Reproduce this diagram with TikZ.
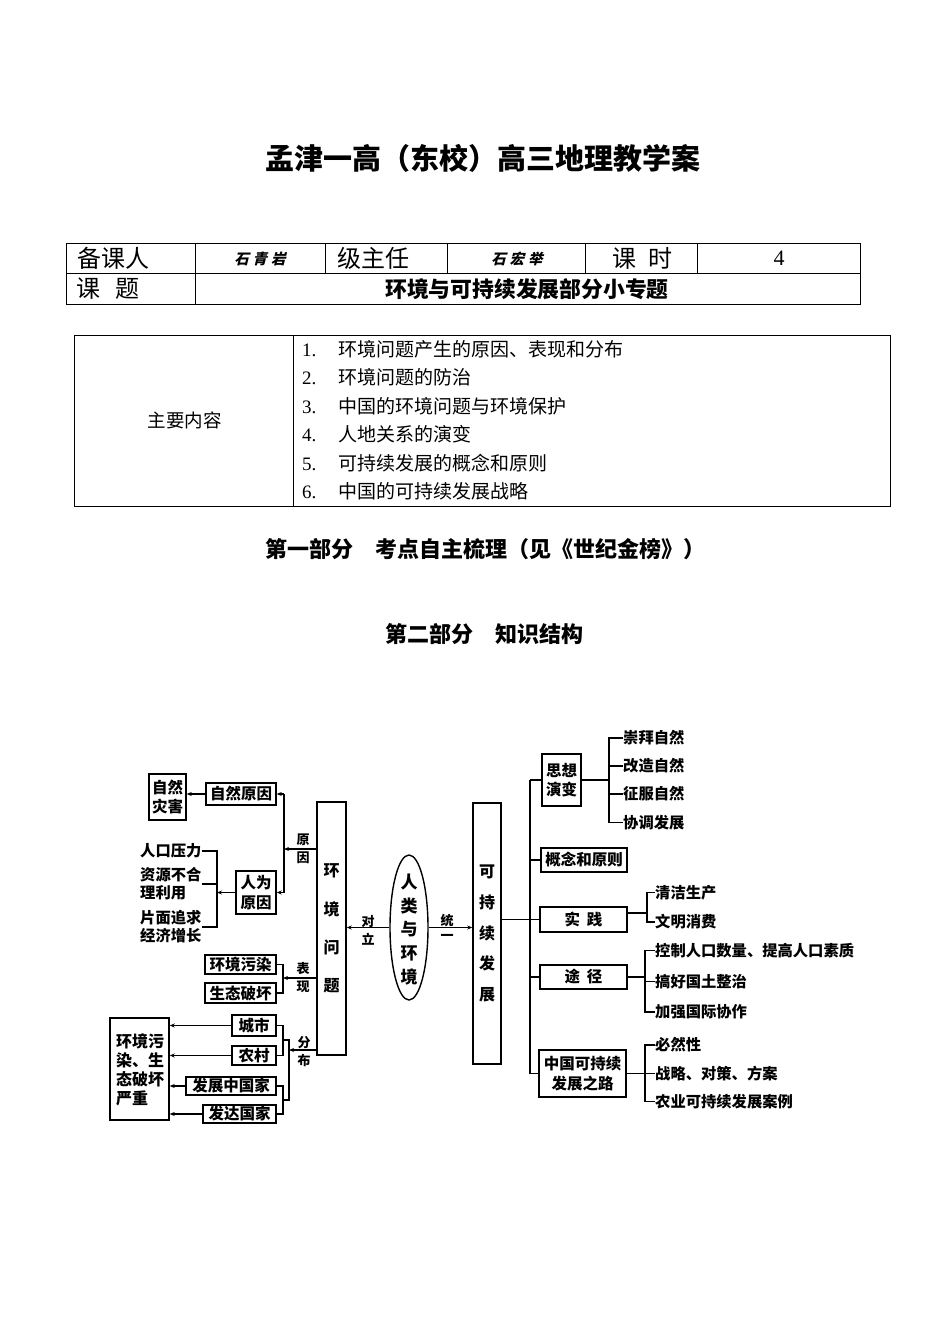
\documentclass[tikz,border=0pt]{standalone}
\usepackage{fontspec}
\setmainfont{Liberation Serif}
\newfontfamily\cjk{Noto Sans CJK SC}
\newfontfamily\cjksl{Noto Sans CJK SC}[FakeSlant=0.25]
\usetikzlibrary{arrows.meta,shapes.geometric}
\newcommand\bxfont{\cjk\bfseries\fontsize{15.5}{19.5}\selectfont}
\newcommand\lblfont{\cjk\bfseries\fontsize{13}{18}\selectfont}
\newcommand\txfont{\cjk\bfseries\fontsize{15.3}{18}\selectfont}
\tikzset{
  ln/.style={line width=1.4pt},
  arr/.style={ln,-{Stealth[length=5pt,width=4pt]}},
  bx/.style={draw,line width=1.4pt,inner sep=0pt,font=\bxfont,align=center},
  tx/.style={inner sep=0pt,font=\txfont,align=left},
  lbl/.style={inner sep=0pt,font=\lblfont,align=center},
  tbl/.style={line width=0.9pt},
  hd/.style={inner sep=0pt,font=\cjk\bfseries\fontsize{22}{25}\selectfont,anchor=west},
  cell/.style={inner sep=0pt,font=\cjk\fontsize{24}{28}\selectfont},
  sig/.style={inner sep=0pt,font=\cjksl\bfseries\fontsize{14.5}{16}\selectfont},
  item/.style={inner sep=0pt,anchor=west,font=\cjk\fontsize{19}{22}\selectfont}
}
\begin{document}
\begin{tikzpicture}[x=1pt,y=-1pt]
\useasboundingbox (0,0) rectangle (950,1342);
\fill[white] (0,0) rectangle (950,1342);

% ---------- title ----------
\node[inner sep=0pt,anchor=west,font=\cjk\bfseries\fontsize{29}{33}\selectfont] (title) at (265,158) {孟津一高（东校）高三地理教学案};

% ---------- table 1 ----------
\draw[tbl] (66,243) rectangle (860,304);
\draw[tbl] (66,273) -- (860,273);
\draw[tbl] (195,243) -- (195,304);
\foreach \xx in {325,447,585,697} \draw[tbl] (\xx,243) -- (\xx,273);
\node[cell] (c1) at (113,258) {备课人};
\node[sig] (c2) at (260,259) {石\hspace{4pt}青\hspace{4pt}岩};
\node[cell] (c3) at (373.5,258) {级主任};
\node[sig] (c4) at (517,259) {石\hspace{4pt}宏\hspace{4pt}举};
\node[cell] (c5) at (642,258) {课\hspace{12pt}时};
\node[inner sep=0pt,font=\fontsize{22}{26}\selectfont] (c6) at (779,258) {4};
\node[cell] (c7) at (108,289) {课\hspace{16pt}题};
\node[inner sep=0pt,font=\cjk\bfseries\fontsize{21.8}{24}\selectfont] (c8) at (527,289) {环境与可持续发展部分小专题};

% ---------- table 2 ----------
\draw[tbl] (74,335) rectangle (890,506);
\draw[tbl] (293,335) -- (293,506);
\node[inner sep=0pt,font=\cjk\fontsize{18.5}{22}\selectfont] (zy) at (184.5,420) {主要内容};
\node[item] (i1) at (302,349) {\makebox[36pt][l]{\rmfamily 1.}环境问题产生的原因、表现和分布};
\node[item] (i2) at (302,377.5) {\makebox[36pt][l]{\rmfamily 2.}环境问题的防治};
\node[item] (i3) at (302,406) {\makebox[36pt][l]{\rmfamily 3.}中国的环境问题与环境保护};
\node[item] (i4) at (302,434.5) {\makebox[36pt][l]{\rmfamily 4.}人地关系的演变};
\node[item] (i5) at (302,463) {\makebox[36pt][l]{\rmfamily 5.}可持续发展的概念和原则};
\node[item] (i6) at (302,491) {\makebox[36pt][l]{\rmfamily 6.}中国的可持续发展战略};

% ---------- headings ----------
\node[hd] (h1) at (265,549) {第一部分　考点自主梳理（见《世纪金榜》）};
\node[hd] (h2) at (385,634) {第二部分　知识结构};

% ---------- diagram: left ----------
\node[bx,minimum width=37pt,minimum height=46pt] (zrzh) at (167.5,797) {自然\\灾害};
\node[bx,minimum width=70pt,minimum height=22pt] (zryy) at (241,794) {自然原因};
\node[bx,minimum width=40pt,minimum height=43pt] (rwyy) at (256,892.5) {人为\\原因};
\node[tx,anchor=west] (t1) at (140,851) {人口压力};
\node[tx,anchor=west] (t2) at (140,884) {资源不合\\理利用};
\node[tx,anchor=west] (t3) at (140,927) {片面追求\\经济增长};
\node[bx,minimum width=71pt,minimum height=19pt] (hjwr) at (240.5,964.5) {环境污染};
\node[bx,minimum width=71pt,minimum height=20pt] (stph) at (240.5,993) {生态破坏};
\node[bx,minimum width=44pt,minimum height=21pt] (cs) at (254,1025.5) {城市};
\node[bx,minimum width=44pt,minimum height=19pt] (nc) at (254,1055.5) {农村};
\node[bx,minimum width=90pt,minimum height=18pt] (fzz) at (231,1086) {发展中国家};
\node[bx,minimum width=73pt,minimum height=18pt] (fd) at (239.5,1114) {发达国家};
\node[bx,minimum width=59pt,minimum height=102pt] (big) at (139.5,1069) {};
\node[tx,anchor=west,font=\cjk\bfseries\fontsize{16}{19}\selectfont] (bigt) at (116,1070) {环境污\\染、生\\态破坏\\严重};

\node[bx,minimum width=29pt,minimum height=253pt,font=\cjk\bfseries\fontsize{16}{38.3}\selectfont] (hjwt) at (331.5,928.5) {环\\境\\问\\题};

% labels
\node[lbl] (lyy) at (303,849) {原\\因};
\node[lbl] (lbx) at (303,978) {表\\现};
\node[lbl] (lfb) at (304,1052) {分\\布};

% connectors left
\coordinate (yyv) at (284,849);
\draw[ln] (yyv |- zryy.east) -- (yyv |- rwyy.east);
\draw[arr] (yyv |- zryy.east) -- (zryy.east);
\draw[arr] (yyv |- rwyy.east) -- (rwyy.east);
\draw[arr] (hjwt.west |- yyv) -- (yyv);
\draw[arr] (zryy.west) -- (zryy.west -| zrzh.east);

\coordinate (rwv) at (217,892.5);
\draw[arr] (rwyy.west) -- (rwv);
\draw[ln] (t1.east) -- (t1.east -| rwv) -- (t3.east -| rwv) -- (t3.east);
\draw[ln] (t2.east) -- (t2.east -| rwv);

\coordinate (bxv) at (283,978);
\draw[arr] (hjwt.west |- bxv) -- (bxv);
\draw[ln] (hjwr.east) -- (hjwr.east -| bxv) -- (stph.east -| bxv) -- (stph.east);

\coordinate (fbv) at (289,1050);
\coordinate (g1) at (283,1040);
\coordinate (g2) at (283,1100);
\draw[arr] (hjwt.west |- fbv) -- (fbv);
\draw[ln] (cs.east) -- (cs.east -| g1) -- (nc.east -| g1) -- (nc.east);
\draw[ln] (fzz.east) -- (fzz.east -| g2) -- (fd.east -| g2) -- (fd.east);
\draw[ln] (g1) -- (g1 -| fbv) -- (g2 -| fbv) -- (g2);
\draw[arr] (cs.west) -- (cs.west -| big.east);
\draw[arr] (nc.west) -- (nc.west -| big.east);
\draw[arr] (fzz.west) -- (fzz.west -| big.east);
\draw[arr] (fd.west) -- (fd.west -| big.east);

% ---------- centre ----------
\node[draw,ellipse,line width=1.4pt,minimum width=38pt,minimum height=145pt,inner sep=0pt] (rl) at (409,927.5) {};
\node[inner sep=0pt,align=center,font=\cjk\bfseries\fontsize{17}{23.8}\selectfont] (rlt) at (409,929.5) {人\\类\\与\\环\\境};
\node[bx,minimum width=28pt,minimum height=261pt,font=\cjk\bfseries\fontsize{16}{30.8}\selectfont] (kcx) at (487,933.5) {可\\持\\续\\发\\展};

\draw[arr] (rl.west) -- (rl.west -| hjwt.east);
\draw[arr] (rl.east) -- (rl.east -| kcx.west);
\node[lbl] (ldl) at (368,930) {对\\立};
\node[lbl] (lt1) at (447,921) {统};
\node[lbl] (lt2) at (447,937) {一};

% ---------- right ----------
\node[bx,minimum width=39pt,minimum height=52pt] (sxyb) at (561.5,780) {思想\\演变};
\node[bx,minimum width=86pt,minimum height=24pt] (gn) at (584,860) {概念和原则};
\node[bx,minimum width=87pt,minimum height=25pt] (sj) at (583.5,919.5) {实\hspace{7pt}践};
\node[bx,minimum width=87pt,minimum height=24pt] (tj) at (583.5,977) {途\hspace{7pt}径};
\node[bx,minimum width=87pt,minimum height=47pt] (zg) at (582.5,1073.5) {中国可持续\\发展之路};

\node[tx,anchor=west] (s1) at (623,738) {崇拜自然};
\node[tx,anchor=west] (s2) at (623,766) {改造自然};
\node[tx,anchor=west] (s3) at (623,794) {征服自然};
\node[tx,anchor=west] (s4) at (623,822.5) {协调发展};
\node[tx,anchor=west] (p1) at (655,892.5) {清洁生产};
\node[tx,anchor=west] (p2) at (655,922) {文明消费};
\node[tx,anchor=west] (w1) at (655,950.5) {控制人口数量、提高人口素质};
\node[tx,anchor=west] (w2) at (655,981.5) {搞好国土整治};
\node[tx,anchor=west] (w3) at (655,1012) {加强国际协作};
\node[tx,anchor=west] (q1) at (655,1045) {必然性};
\node[tx,anchor=west] (q2) at (655,1073.5) {战略、对策、方案};
\node[tx,anchor=west] (q3) at (655,1101.5) {农业可持续发展案例};

\coordinate (mv) at (530,919.5);
\draw[ln] (kcx.east |- sj.west) -- (sj.west);
\draw[ln] (mv |- sxyb.west) -- (mv |- zg.west);
\draw[ln] (mv |- sxyb.west) -- (sxyb.west);
\draw[ln] (mv |- gn.west) -- (gn.west);
\draw[ln] (mv |- tj.west) -- (tj.west);
\draw[ln] (mv |- zg.west) -- (zg.west);

\coordinate (sb) at (609,780);
\draw[ln] (sxyb.east) -- (sb);
\draw[ln] (s1.west) -- (s1.west -| sb) -- (s4.west -| sb) -- (s4.west);
\draw[ln] (s2.west) -- (s2.west -| sb);
\draw[ln] (s3.west) -- (s3.west -| sb);

\coordinate (jb) at (647,913);
\draw[ln] (sj.east |- jb) -- (jb);
\draw[ln] (p1.west) -- (p1.west -| jb) -- (p2.west -| jb) -- (p2.west);

\coordinate (tb) at (645,977);
\draw[ln] (tj.east) -- (tb);
\draw[ln] (w1.west) -- (w1.west -| tb) -- (w3.west -| tb) -- (w3.west);
\draw[ln] (w2.west) -- (w2.west -| tb);

\coordinate (zb) at (645,1073.5);
\draw[ln] (zg.east) -- (zb);
\draw[ln] (q1.west) -- (q1.west -| zb) -- (q3.west -| zb) -- (q3.west);
\draw[ln] (q2.west) -- (q2.west -| zb);
\end{tikzpicture}
\end{document}
